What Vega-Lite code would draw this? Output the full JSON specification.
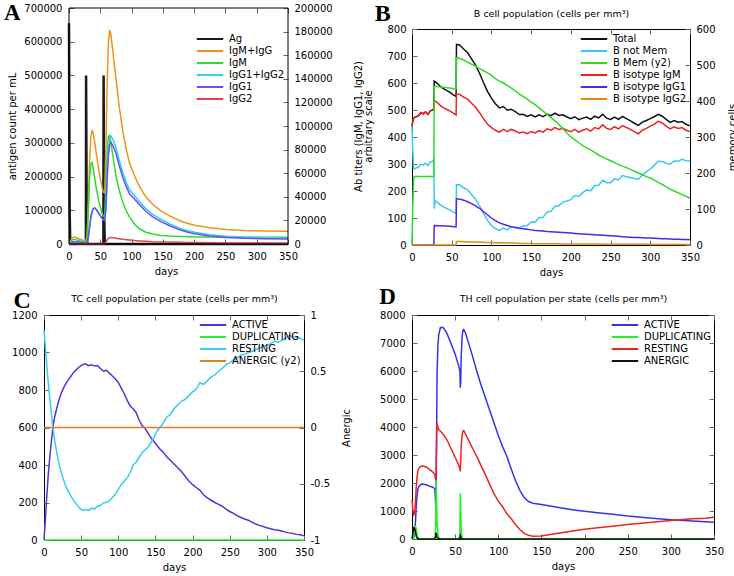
{
"$schema": "https://vega.github.io/schema/vega-lite/v6.json",
"background": "white",
"padding": {"left": 3, "top": 1, "right": 0, "bottom": 0},
"config": {
  "font": "DejaVu Sans",
  "view": {"stroke": "#000", "strokeWidth": 1},
  "axis": {"grid": false, "domain": false, "tickSize": -5, "tickColor": "#666", "labelFont": "DejaVu Sans", "labelFontSize": 10, "labelColor": "#000", "labelPadding": 12, "titleFont": "DejaVu Sans", "titleFontSize": 10, "titleFontWeight": "normal", "titleColor": "#000", "titlePadding": 5, "labelFlush": false, "labelOverlap": false},
  "legend": {"orient": "top-right", "offset": 3, "padding": 0, "labelFont": "DejaVu Sans", "labelFontSize": 10, "labelColor": "#000", "symbolType": "M-2.2,0H2.2", "symbolStrokeWidth": 2, "symbolSize": 144, "rowPadding": 0, "labelOffset": 12, "labelLimit": 250}
},
"datasets": {
  "A_ag": [{"d":0,"v":655000},{"d":1,"v":100000},{"d":2,"v":0},{"d":27,"v":0},{"d":27.3,"v":500000},{"d":28.3,"v":70000},{"d":29.3,"v":0},{"d":55,"v":0},{"d":55.3,"v":500000},{"d":56.3,"v":70000},{"d":57.3,"v":0},{"d":350,"v":0}],
  "A_ab": [
{"d":0,"m":0,"g1":0,"g2":0,"g12":0,"mg":0},
{"d":2,"m":1500,"g1":500,"g2":0,"g12":500,"mg":2000},
{"d":5,"m":3500,"g1":1700,"g2":0,"g12":1700,"mg":5200},
{"d":9,"m":3900,"g1":2000,"g2":0,"g12":2000,"mg":5900},
{"d":14,"m":3200,"g1":1700,"g2":0,"g12":1700,"mg":4900},
{"d":20,"m":2300,"g1":1300,"g2":0,"g12":1300,"mg":3600},
{"d":27,"m":1500,"g1":900,"g2":0,"g12":900,"mg":2400},
{"d":29,"m":6000,"g1":1500,"g2":0,"g12":1500,"mg":7500},
{"d":31,"m":30000,"g1":6000,"g2":0,"g12":6000,"mg":36000},
{"d":33,"m":57000,"g1":15000,"g2":0,"g12":15000,"mg":72000},
{"d":35,"m":68000,"g1":23000,"g2":0,"g12":23000,"mg":91000},
{"d":37,"m":69000,"g1":27500,"g2":0,"g12":27500,"mg":96500},
{"d":39,"m":63000,"g1":30000,"g2":0,"g12":30000,"mg":93000},
{"d":41,"m":56000,"g1":30500,"g2":0,"g12":30500,"mg":86500},
{"d":44,"m":46000,"g1":29000,"g2":0,"g12":29000,"mg":75000},
{"d":47,"m":38000,"g1":26500,"g2":0,"g12":26500,"mg":64500},
{"d":50,"m":31500,"g1":24000,"g2":0,"g12":24000,"mg":55500},
{"d":53,"m":26000,"g1":21500,"g2":0,"g12":21500,"mg":47500},
{"d":55,"m":23500,"g1":20500,"g2":0,"g12":20500,"mg":44000},
{"d":57,"m":23000,"g1":20000,"g2":300,"g12":20300,"mg":43300},
{"d":59,"m":50000,"g1":30000,"g2":1800,"g12":31800,"mg":81800},
{"d":61,"m":78000,"g1":55000,"g2":3500,"g12":58500,"mg":136500},
{"d":63,"m":91000,"g1":75000,"g2":4800,"g12":79800,"mg":170800},
{"d":65,"m":92000,"g1":84000,"g2":5400,"g12":89400,"mg":181400},
{"d":67,"m":86000,"g1":86000,"g2":5500,"g12":91500,"mg":177500},
{"d":70,"m":75000,"g1":83500,"g2":5300,"g12":88800,"mg":163800},
{"d":75,"m":58000,"g1":77000,"g2":4900,"g12":81900,"mg":139900},
{"d":80,"m":46000,"g1":67000,"g2":4500,"g12":71500,"mg":117500},
{"d":86,"m":35300,"g1":56400,"g2":4000,"g12":60400,"mg":95700},
{"d":92,"m":27500,"g1":48000,"g2":3600,"g12":51600,"mg":79100},
{"d":97,"m":22600,"g1":42400,"g2":3300,"g12":45700,"mg":68300},
{"d":105,"m":16500,"g1":38000,"g2":2900,"g12":40900,"mg":57400},
{"d":113,"m":12700,"g1":33000,"g2":2600,"g12":35600,"mg":48300},
{"d":123,"m":10000,"g1":27500,"g2":2300,"g12":29800,"mg":39800},
{"d":134,"m":8500,"g1":23000,"g2":2000,"g12":25000,"mg":33500},
{"d":147,"m":7300,"g1":19000,"g2":1800,"g12":20800,"mg":28100},
{"d":161,"m":6700,"g1":15500,"g2":1600,"g12":17100,"mg":23800},
{"d":177,"m":6300,"g1":12000,"g2":1400,"g12":13400,"mg":19700},
{"d":190,"m":6100,"g1":10000,"g2":1300,"g12":11300,"mg":17400},
{"d":203,"m":6000,"g1":8500,"g2":1200,"g12":9700,"mg":15700},
{"d":225,"m":5900,"g1":6800,"g2":1000,"g12":7800,"mg":13700},
{"d":251,"m":5800,"g1":5600,"g2":900,"g12":6500,"mg":12300},
{"d":280,"m":5700,"g1":4900,"g2":800,"g12":5700,"mg":11400},
{"d":310,"m":5700,"g1":4500,"g2":750,"g12":5250,"mg":10950},
{"d":350,"m":5700,"g1":4300,"g2":700,"g12":5000,"mg":10700}
  ],
  "B": [
{"d":0,"tot":440,"nm":440,"mem":0,"igm":440,"g1":0,"g2":0},
{"d":1,"tot":458,"nm":348,"mem":110,"igm":458,"g1":0,"g2":0},
{"d":2,"tot":468,"nm":283,"mem":185,"igm":468,"g1":0,"g2":0},
{"d":3,"tot":472,"nm":282,"mem":190,"igm":472,"g1":0,"g2":0},
{"d":5,"tot":475,"nm":285,"mem":190,"igm":475,"g1":0,"g2":0},
{"d":8,"tot":478,"nm":288,"mem":190,"igm":478,"g1":0,"g2":0},
{"d":11,"tot":490,"nm":300,"mem":190,"igm":490,"g1":0,"g2":0},
{"d":14,"tot":486,"nm":296,"mem":190,"igm":486,"g1":0,"g2":0},
{"d":17,"tot":493,"nm":303,"mem":190,"igm":493,"g1":0,"g2":0},
{"d":20,"tot":484,"nm":294,"mem":190,"igm":484,"g1":0,"g2":0},
{"d":23,"tot":497,"nm":307,"mem":190,"igm":497,"g1":0,"g2":0},
{"d":26,"tot":500,"nm":310,"mem":190,"igm":500,"g1":0,"g2":0},
{"d":27.5,"tot":506,"nm":316,"mem":190,"igm":506,"g1":0,"g2":0},
{"d":28,"tot":607,"nm":135,"mem":440,"igm":535,"g1":72,"g2":0},
{"d":29,"tot":605,"nm":164,"mem":441,"igm":533,"g1":72,"g2":0},
{"d":32,"tot":598,"nm":158,"mem":440,"igm":527,"g1":71,"g2":0},
{"d":36,"tot":587,"nm":148,"mem":439,"igm":516,"g1":71,"g2":0},
{"d":40,"tot":578,"nm":140,"mem":438,"igm":508,"g1":70,"g2":0},
{"d":44,"tot":572,"nm":135,"mem":437,"igm":502,"g1":70,"g2":0},
{"d":48,"tot":565,"nm":129,"mem":436,"igm":496,"g1":69,"g2":0},
{"d":52,"tot":556,"nm":122,"mem":434,"igm":488,"g1":68,"g2":0},
{"d":55.5,"tot":550,"nm":117,"mem":433,"igm":482,"g1":68,"g2":0},
{"d":56,"tot":743,"nm":223,"mem":520,"igm":560,"g1":170,"g2":13},
{"d":60,"tot":741,"nm":223,"mem":518,"igm":558,"g1":170,"g2":13},
{"d":65,"tot":726,"nm":212,"mem":514,"igm":548,"g1":166,"g2":12},
{"d":70,"tot":712,"nm":204,"mem":508,"igm":540,"g1":160,"g2":12},
{"d":75,"tot":689,"nm":187,"mem":502,"igm":525,"g1":153,"g2":11},
{"d":80,"tot":666,"nm":169,"mem":497,"igm":510,"g1":145,"g2":11},
{"d":85,"tot":636,"nm":146,"mem":490,"igm":490,"g1":136,"g2":10},
{"d":90,"tot":602,"nm":118,"mem":484,"igm":468,"g1":124,"g2":10},
{"d":95,"tot":569,"nm":91,"mem":478,"igm":448,"g1":112,"g2":9},
{"d":100,"tot":544,"nm":72,"mem":472,"igm":435,"g1":100,"g2":9},
{"d":105,"tot":523,"nm":61,"mem":462,"igm":425,"g1":90,"g2":8},
{"d":110,"tot":508,"nm":53,"mem":455,"igm":418,"g1":82,"g2":8},
{"d":115,"tot":513,"nm":63,"mem":450,"igm":428,"g1":77,"g2":8},
{"d":120,"tot":499,"nm":56,"mem":443,"igm":420,"g1":72,"g2":7},
{"d":125,"tot":503,"nm":67,"mem":436,"igm":428,"g1":68,"g2":7},
{"d":130,"tot":494,"nm":66,"mem":428,"igm":422,"g1":65,"g2":7},
{"d":135,"tot":483,"nm":63,"mem":420,"igm":415,"g1":62,"g2":6},
{"d":140,"tot":484,"nm":71,"mem":413,"igm":418,"g1":60,"g2":6},
{"d":145,"tot":476,"nm":71,"mem":405,"igm":412,"g1":58,"g2":6},
{"d":150,"tot":482,"nm":85,"mem":397,"igm":420,"g1":56,"g2":6},
{"d":155,"tot":474,"nm":84,"mem":390,"igm":415,"g1":54,"g2":5},
{"d":160,"tot":482,"nm":101,"mem":381,"igm":424,"g1":53,"g2":5},
{"d":165,"tot":475,"nm":103,"mem":372,"igm":418,"g1":52,"g2":5},
{"d":170,"tot":485,"nm":122,"mem":363,"igm":430,"g1":50,"g2":5},
{"d":175,"tot":479,"nm":125,"mem":354,"igm":425,"g1":49,"g2":5},
{"d":180,"tot":488,"nm":143,"mem":345,"igm":435,"g1":48,"g2":5},
{"d":185,"tot":480,"nm":145,"mem":335,"igm":428,"g1":47,"g2":5},
{"d":190,"tot":482,"nm":159,"mem":323,"igm":432,"g1":46,"g2":4},
{"d":195,"tot":474,"nm":163,"mem":311,"igm":425,"g1":45,"g2":4},
{"d":200,"tot":468,"nm":168,"mem":300,"igm":420,"g1":44,"g2":4},
{"d":205,"tot":475,"nm":183,"mem":292,"igm":428,"g1":43,"g2":4},
{"d":210,"tot":464,"nm":180,"mem":284,"igm":418,"g1":42,"g2":4},
{"d":215,"tot":470,"nm":194,"mem":276,"igm":425,"g1":41,"g2":4},
{"d":220,"tot":474,"nm":204,"mem":270,"igm":430,"g1":40,"g2":4},
{"d":225,"tot":465,"nm":201,"mem":264,"igm":422,"g1":39,"g2":4},
{"d":230,"tot":477,"nm":220,"mem":257,"igm":435,"g1":38,"g2":4},
{"d":235,"tot":471,"nm":221,"mem":250,"igm":430,"g1":37,"g2":4},
{"d":240,"tot":484,"nm":240,"mem":244,"igm":445,"g1":36,"g2":3},
{"d":245,"tot":470,"nm":231,"mem":239,"igm":432,"g1":35,"g2":3},
{"d":250,"tot":465,"nm":231,"mem":234,"igm":428,"g1":34,"g2":3},
{"d":255,"tot":474,"nm":245,"mem":229,"igm":438,"g1":33,"g2":3},
{"d":260,"tot":465,"nm":241,"mem":224,"igm":430,"g1":32,"g2":3},
{"d":265,"tot":476,"nm":257,"mem":219,"igm":442,"g1":31,"g2":3},
{"d":270,"tot":468,"nm":253,"mem":215,"igm":435,"g1":30,"g2":3},
{"d":275,"tot":460,"nm":250,"mem":210,"igm":428,"g1":29,"g2":3},
{"d":280,"tot":451,"nm":246,"mem":205,"igm":420,"g1":28,"g2":3},
{"d":285,"tot":443,"nm":243,"mem":200,"igm":412,"g1":28,"g2":3},
{"d":290,"tot":455,"nm":260,"mem":195,"igm":425,"g1":27,"g2":3},
{"d":295,"tot":461,"nm":271,"mem":190,"igm":432,"g1":26,"g2":3},
{"d":300,"tot":468,"nm":282,"mem":186,"igm":440,"g1":26,"g2":2},
{"d":305,"tot":475,"nm":295,"mem":180,"igm":448,"g1":25,"g2":2},
{"d":310,"tot":484,"nm":310,"mem":174,"igm":458,"g1":24,"g2":2},
{"d":315,"tot":477,"nm":309,"mem":168,"igm":452,"g1":23,"g2":2},
{"d":320,"tot":465,"nm":303,"mem":162,"igm":440,"g1":23,"g2":2},
{"d":325,"tot":454,"nm":299,"mem":155,"igm":430,"g1":22,"g2":2},
{"d":330,"tot":461,"nm":311,"mem":150,"igm":438,"g1":21,"g2":2},
{"d":335,"tot":455,"nm":310,"mem":145,"igm":432,"g1":21,"g2":2},
{"d":340,"tot":457,"nm":317,"mem":140,"igm":435,"g1":20,"g2":2},
{"d":345,"tot":447,"nm":312,"mem":135,"igm":425,"g1":20,"g2":2},
{"d":350,"tot":441,"nm":311,"mem":130,"igm":420,"g1":19,"g2":2}
  ],
  "C": [
{"d":0,"act":0,"dup":0,"res":1120,"an":0},{"d":2,"act":120,"dup":0,"res":1020,"an":0},{"d":4,"act":250,"dup":0,"res":920,"an":0},{"d":6,"act":360,"dup":0,"res":830,"an":0},{"d":8,"act":450,"dup":0,"res":750,"an":0},{"d":10,"act":530,"dup":0,"res":670,"an":0},{"d":12,"act":600,"dup":0,"res":600,"an":0},{"d":14,"act":650,"dup":0,"res":540,"an":0},{"d":17,"act":700,"dup":0,"res":470,"an":0},{"d":20,"act":745,"dup":0,"res":410,"an":0},{"d":24,"act":790,"dup":0,"res":350,"an":0},{"d":28,"act":825,"dup":0,"res":300,"an":0},{"d":32,"act":850,"dup":0,"res":265,"an":0},{"d":36,"act":872,"dup":0,"res":235,"an":0},{"d":40,"act":895,"dup":0,"res":210,"an":0},{"d":44,"act":910,"dup":0,"res":190,"an":0},{"d":48,"act":925,"dup":0,"res":170,"an":0},{"d":52,"act":935,"dup":0,"res":158,"an":0},{"d":56,"act":940,"dup":0,"res":162,"an":0},{"d":60,"act":930,"dup":0,"res":158,"an":0},{"d":64,"act":935,"dup":0,"res":170,"an":0},{"d":68,"act":928,"dup":0,"res":165,"an":0},{"d":72,"act":930,"dup":0,"res":180,"an":0},{"d":76,"act":915,"dup":0,"res":185,"an":0},{"d":80,"act":900,"dup":0,"res":198,"an":0},{"d":84,"act":905,"dup":0,"res":200,"an":0},{"d":88,"act":890,"dup":0,"res":210,"an":0},{"d":92,"act":875,"dup":0,"res":225,"an":0},{"d":96,"act":860,"dup":0,"res":245,"an":0},{"d":100,"act":840,"dup":0,"res":270,"an":0},{"d":104,"act":810,"dup":0,"res":295,"an":0},{"d":108,"act":780,"dup":0,"res":315,"an":0},{"d":112,"act":745,"dup":0,"res":330,"an":0},{"d":116,"act":715,"dup":0,"res":360,"an":0},{"d":120,"act":700,"dup":0,"res":400,"an":0},{"d":124,"act":680,"dup":0,"res":415,"an":0},{"d":128,"act":640,"dup":0,"res":440,"an":0},{"d":132,"act":610,"dup":0,"res":465,"an":0},{"d":136,"act":595,"dup":0,"res":480,"an":0},{"d":140,"act":570,"dup":0,"res":495,"an":0},{"d":144,"act":545,"dup":0,"res":520,"an":0},{"d":148,"act":525,"dup":0,"res":545,"an":0},{"d":152,"act":505,"dup":0,"res":580,"an":0},{"d":156,"act":485,"dup":0,"res":600,"an":0},{"d":160,"act":470,"dup":0,"res":620,"an":0},{"d":165,"act":445,"dup":0,"res":655,"an":0},{"d":170,"act":425,"dup":0,"res":670,"an":0},{"d":175,"act":405,"dup":0,"res":700,"an":0},{"d":180,"act":385,"dup":0,"res":720,"an":0},{"d":185,"act":365,"dup":0,"res":740,"an":0},{"d":190,"act":340,"dup":0,"res":750,"an":0},{"d":195,"act":315,"dup":0,"res":770,"an":0},{"d":200,"act":295,"dup":0,"res":790,"an":0},{"d":205,"act":280,"dup":0,"res":805,"an":0},{"d":210,"act":265,"dup":0,"res":840,"an":0},{"d":215,"act":240,"dup":0,"res":830,"an":0},{"d":220,"act":225,"dup":0,"res":850,"an":0},{"d":225,"act":212,"dup":0,"res":870,"an":0},{"d":230,"act":200,"dup":0,"res":880,"an":0},{"d":235,"act":190,"dup":0,"res":900,"an":0},{"d":240,"act":180,"dup":0,"res":915,"an":0},{"d":245,"act":165,"dup":0,"res":935,"an":0},{"d":250,"act":152,"dup":0,"res":945,"an":0},{"d":255,"act":142,"dup":0,"res":960,"an":0},{"d":260,"act":130,"dup":0,"res":970,"an":0},{"d":265,"act":120,"dup":0,"res":985,"an":0},{"d":270,"act":112,"dup":0,"res":990,"an":0},{"d":275,"act":105,"dup":0,"res":1000,"an":0},{"d":280,"act":95,"dup":0,"res":1005,"an":0},{"d":285,"act":85,"dup":0,"res":1015,"an":0},{"d":290,"act":78,"dup":0,"res":1025,"an":0},{"d":295,"act":72,"dup":0,"res":1030,"an":0},{"d":300,"act":65,"dup":0,"res":1040,"an":0},{"d":305,"act":60,"dup":0,"res":1045,"an":0},{"d":310,"act":55,"dup":0,"res":1060,"an":0},{"d":315,"act":52,"dup":0,"res":1055,"an":0},{"d":320,"act":48,"dup":0,"res":1065,"an":0},{"d":325,"act":42,"dup":0,"res":1075,"an":0},{"d":330,"act":38,"dup":0,"res":1090,"an":0},{"d":335,"act":35,"dup":0,"res":1085,"an":0},{"d":340,"act":30,"dup":0,"res":1080,"an":0},{"d":345,"act":28,"dup":0,"res":1075,"an":0},{"d":350,"act":22,"dup":0,"res":1065,"an":0}
  ],
  "D": [
{"d":0,"act":0,"dup":0,"res":1400,"an":0},{"d":1,"act":0,"dup":0,"res":1050,"an":200},{"d":2,"act":40,"dup":60,"res":860,"an":400},{"d":3,"act":200,"dup":300,"res":900,"an":380},{"d":4,"act":600,"dup":480,"res":1300,"an":250},{"d":5,"act":1200,"dup":350,"res":1900,"an":100},{"d":6,"act":1600,"dup":150,"res":2250,"an":30},{"d":7,"act":1800,"dup":40,"res":2450,"an":10},{"d":8,"act":1880,"dup":10,"res":2530,"an":0},{"d":10,"act":1940,"dup":0,"res":2590,"an":0},{"d":12,"act":1960,"dup":0,"res":2610,"an":0},{"d":15,"act":1950,"dup":0,"res":2590,"an":0},{"d":18,"act":1920,"dup":0,"res":2540,"an":0},{"d":21,"act":1880,"dup":0,"res":2470,"an":0},{"d":24,"act":1850,"dup":0,"res":2390,"an":0},{"d":26.5,"act":1800,"dup":0,"res":2300,"an":0},{"d":27.5,"act":1200,"dup":500,"res":2100,"an":100},{"d":28,"act":1500,"dup":2100,"res":2500,"an":230},{"d":28.5,"act":3500,"dup":1500,"res":3800,"an":150},{"d":29,"act":5800,"dup":600,"res":4150,"an":60},{"d":30,"act":6900,"dup":200,"res":4000,"an":20},{"d":31,"act":7300,"dup":50,"res":3900,"an":0},{"d":33,"act":7550,"dup":10,"res":3850,"an":0},{"d":36,"act":7550,"dup":0,"res":3750,"an":0},{"d":40,"act":7380,"dup":0,"res":3570,"an":0},{"d":45,"act":7000,"dup":0,"res":3250,"an":0},{"d":50,"act":6600,"dup":0,"res":2920,"an":0},{"d":54,"act":6200,"dup":0,"res":2650,"an":0},{"d":55.5,"act":6000,"dup":100,"res":2500,"an":30},{"d":56,"act":5400,"dup":1630,"res":2420,"an":120},{"d":56.5,"act":5600,"dup":1000,"res":2800,"an":80},{"d":57,"act":6500,"dup":300,"res":3300,"an":30},{"d":58,"act":7200,"dup":80,"res":3700,"an":0},{"d":59,"act":7450,"dup":10,"res":3850,"an":0},{"d":60,"act":7480,"dup":0,"res":3870,"an":0},{"d":62,"act":7350,"dup":0,"res":3750,"an":0},{"d":65,"act":7050,"dup":0,"res":3560,"an":0},{"d":70,"act":6550,"dup":0,"res":3250,"an":0},{"d":75,"act":6000,"dup":0,"res":2950,"an":0},{"d":80,"act":5500,"dup":0,"res":2620,"an":0},{"d":85,"act":5050,"dup":0,"res":2300,"an":0},{"d":90,"act":4600,"dup":0,"res":1950,"an":0},{"d":95,"act":4150,"dup":0,"res":1620,"an":0},{"d":100,"act":3700,"dup":0,"res":1350,"an":0},{"d":105,"act":3300,"dup":0,"res":1150,"an":0},{"d":110,"act":2950,"dup":0,"res":900,"an":0},{"d":115,"act":2500,"dup":0,"res":720,"an":0},{"d":120,"act":2080,"dup":0,"res":520,"an":0},{"d":125,"act":1740,"dup":0,"res":340,"an":0},{"d":130,"act":1480,"dup":0,"res":200,"an":0},{"d":135,"act":1340,"dup":0,"res":130,"an":0},{"d":140,"act":1280,"dup":0,"res":100,"an":0},{"d":150,"act":1230,"dup":0,"res":110,"an":0},{"d":160,"act":1180,"dup":0,"res":160,"an":0},{"d":175,"act":1100,"dup":0,"res":230,"an":0},{"d":190,"act":1030,"dup":0,"res":300,"an":0},{"d":200,"act":990,"dup":0,"res":345,"an":0},{"d":215,"act":940,"dup":0,"res":400,"an":0},{"d":230,"act":890,"dup":0,"res":450,"an":0},{"d":250,"act":820,"dup":0,"res":520,"an":0},{"d":275,"act":750,"dup":0,"res":590,"an":0},{"d":300,"act":690,"dup":0,"res":660,"an":0},{"d":310,"act":670,"dup":0,"res":690,"an":0},{"d":325,"act":640,"dup":0,"res":720,"an":0},{"d":340,"act":620,"dup":0,"res":740,"an":0},{"d":350,"act":600,"dup":0,"res":780,"an":0}
  ]
},
"resolve": {"scale": {"color": "independent", "x": "independent", "y": "independent"}, "legend": {"color": "independent"}},
"columns": 2,
"spacing": {"row": 7, "column": 0},
"concat": [
  {"width": 244, "height": 215,
   "view": {"stroke": null},
   "resolve": {"scale": {"y": "independent"}, "axis": {"x": "independent"}},
   "layer": [
    {"data": {"name": "A_ag"},
     "mark": {"type": "line", "strokeWidth": 2.5},
     "encoding": {
      "x": {"field": "d", "type": "quantitative", "scale": {"domain": [-39.954, 350], "nice": false, "zero": false}, "axis": {"title": "days", "values": [0,50,100,150,200,250,300,350]}},
      "y": {"field": "v", "type": "quantitative", "scale": {"domain": [0, 700000], "range": [215, -21], "nice": false}, "axis": {"title": "antigen count per mL", "offset": -25, "titlePadding": 6, "values": [0,100000,200000,300000,400000,500000,600000,700000], "format": "d"}},
      "color": {"datum": "ag", "type": "nominal", "scale": {"domain": ["ag","mg","m","g12","g1","g2"], "range": ["#1a1a1a","#e8961e","#2ddb2d","#33ccf5","#6a50f0","#e8404a"]},
        "legend": {"title": null, "labelExpr": "datum.label=='ag'?'Ag':datum.label=='mg'?'IgM+IgG':datum.label=='m'?'IgM':datum.label=='g12'?'IgG1+IgG2':datum.label=='g1'?'IgG1':'IgG2'"}}
     }},
    {"data": {"name": "A_ab"},
     "transform": [{"fold": ["mg","m","g12","g1","g2"], "as": ["s","v"]}],
     "mark": {"type": "line", "strokeWidth": 1.5},
     "encoding": {
      "x": {"field": "d", "type": "quantitative", "scale": {"domain": [-39.954, 350], "nice": false, "zero": false}, "axis": null},
      "y": {"field": "v", "type": "quantitative", "scale": {"domain": [0, 200000], "range": [215, -21], "nice": false}, "axis": {"orient": "right", "labelPadding": 11, "title": ["Ab titers (IgM, IgG1, IgG2)", "arbitrary scale"], "titleAngle": 270, "titleBaseline": "top", "titlePadding": 11, "titleLineHeight": 10, "values": [0,20000,40000,60000,80000,100000,120000,140000,160000,180000,200000], "format": "d"}},
      "color": {"field": "s", "type": "nominal", "legend": {"title": null}}
     }},
    {"data": {"values": [{}]},
     "mark": {"type": "rect", "filled": false, "stroke": "#000", "strokeWidth": 1},
     "encoding": {
      "x": {"datum": 0, "type": "quantitative", "scale": {"domain": [-39.954, 350], "nice": false, "zero": false}, "axis": null},
      "x2": {"datum": 350},
      "y": {"datum": 0, "type": "quantitative", "scale": {"domain": [0, 700000], "range": [215, -21], "nice": false}, "axis": null},
      "y2": {"datum": 700000}
     }},
    {"data": {"values": [{}]},
     "mark": {"type": "text", "text": "A", "font": "Liberation Serif", "fontSize": 23, "fontWeight": "bold", "align": "left", "baseline": "alphabetic", "color": "#000"},
     "encoding": {
      "x": {"datum": -104, "type": "quantitative", "scale": {"domain": [-39.954, 350], "nice": false, "zero": false}, "axis": {"orient": "top", "labels": false, "title": null, "offset": 21, "values": [0,50,100,150,200,250,300,350]}},
      "y": {"datum": 663000, "type": "quantitative", "scale": {"domain": [0, 700000], "range": [215, -21], "nice": false}, "axis": null}
     }}
   ]},
  {"width": 278, "height": 216,
   "resolve": {"scale": {"y": "independent"}, "axis": {"x": "independent"}},
   "layer": [
    {"data": {"name": "B"},
     "transform": [{"fold": ["tot","nm","igm","g1","g2"], "as": ["s","v"]}],
     "mark": {"type": "line", "strokeWidth": 1.5},
     "encoding": {
      "x": {"field": "d", "type": "quantitative", "scale": {"domain": [0, 350], "nice": false}, "axis": {"title": "days", "values": [0,50,100,150,200,250,300,350]}},
      "y": {"field": "v", "type": "quantitative", "scale": {"domain": [0, 800], "nice": false}, "axis": {"title": null, "labelPadding": 11, "values": [0,100,200,300,400,500,600,700,800]}},
      "color": {"field": "s", "type": "nominal", "scale": {"domain": ["tot","nm","mem","igm","g1","g2"], "range": ["#111111","#38c8f5","#28dd28","#ee2222","#5522ee","#e08a10"]},
        "legend": {"title": null, "labelExpr": "datum.label=='tot'?'Total':datum.label=='nm'?'B not Mem':datum.label=='mem'?'B Mem (y2)':datum.label=='igm'?'B isotype IgM':datum.label=='g1'?'B isotype IgG1':'B isotype IgG2'"}}
     }},
    {"data": {"name": "B"},
     "mark": {"type": "line", "strokeWidth": 1.5},
     "encoding": {
      "x": {"field": "d", "type": "quantitative", "scale": {"domain": [0, 350], "nice": false}, "axis": null},
      "y": {"field": "mem", "type": "quantitative", "scale": {"domain": [0, 600], "nice": false}, "axis": {"orient": "right", "labelPadding": 11, "title": "memory cells", "titleAngle": 270, "titleBaseline": "top", "titlePadding": 12, "values": [0,100,200,300,400,500,600]}},
      "color": {"datum": "mem", "type": "nominal", "legend": {"title": null}}
     }},
    {"data": {"values": [{}]},
     "mark": {"type": "text", "text": "B", "font": "Liberation Serif", "fontSize": 24, "fontWeight": "bold", "align": "left", "baseline": "alphabetic", "color": "#000"},
     "encoding": {
      "x": {"datum": -47, "type": "quantitative", "scale": {"domain": [0, 350], "nice": false}, "axis": {"orient": "top", "labels": false, "title": "B cell population (cells per mm³)", "titleFontSize": 9.5, "titlePadding": 10, "values": [0,50,100,150,200,250,300,350]}},
      "y": {"datum": 830, "type": "quantitative", "scale": {"domain": [0, 800], "nice": false}, "axis": null}
     }}
   ]},
  {"width": 260, "height": 225,
   "resolve": {"scale": {"y": "independent"}, "axis": {"x": "independent"}},
   "layer": [
    {"data": {"name": "C"},
     "transform": [{"fold": ["act","dup","res"], "as": ["s","v"]}],
     "mark": {"type": "line", "strokeWidth": 1.5},
     "encoding": {
      "x": {"field": "d", "type": "quantitative", "scale": {"domain": [0, 350], "nice": false}, "axis": {"title": "days", "values": [0,50,100,150,200,250,300,350]}},
      "y": {"field": "v", "type": "quantitative", "scale": {"domain": [0, 1200], "nice": false}, "axis": {"title": null, "values": [0,200,400,600,800,1000,1200], "format": "d"}},
      "color": {"field": "s", "type": "nominal", "scale": {"domain": ["act","dup","res","an"], "range": ["#5a30d8","#33ee33","#38ccf5","#e08020"]},
        "legend": {"title": null, "labelExpr": "datum.label=='act'?'ACTIVE':datum.label=='dup'?'DUPLICATING':datum.label=='res'?'RESTING':'ANERGIC (y2)'"}}
     }},
    {"data": {"name": "C"},
     "mark": {"type": "line", "strokeWidth": 1.5},
     "encoding": {
      "x": {"field": "d", "type": "quantitative", "scale": {"domain": [0, 350], "nice": false}, "axis": null},
      "y": {"field": "an", "type": "quantitative", "scale": {"domain": [-1, 1], "nice": false}, "axis": {"orient": "right", "title": "Anergic", "titleAngle": 270, "titleBaseline": "top", "titlePadding": 12, "labelPadding": 11, "values": [-1,-0.5,0,0.5,1], "labelExpr": "'' + datum.value"}},
      "color": {"datum": "an", "type": "nominal", "legend": {"title": null}}
     }},
    {"data": {"values": [{}]},
     "mark": {"type": "text", "text": "C", "font": "Liberation Serif", "fontSize": 24, "fontWeight": "bold", "align": "left", "baseline": "alphabetic", "color": "#000"},
     "encoding": {
      "x": {"datum": -41, "type": "quantitative", "scale": {"domain": [0, 350], "nice": false}, "axis": {"orient": "top", "labels": false, "title": "TC cell population per state (cells per mm³)", "titleFontSize": 9.5, "titlePadding": 11, "values": [0,50,100,150,200,250,300,350]}},
      "y": {"datum": 1235, "type": "quantitative", "scale": {"domain": [0, 1200], "nice": false}, "axis": null}
     }}
   ]},
  {"width": 302, "height": 224,
   "resolve": {"scale": {"y": "independent"}, "axis": {"x": "independent"}},
   "layer": [
    {"data": {"name": "D"},
     "transform": [{"fold": ["act","dup","res","an"], "as": ["s","v"]}],
     "mark": {"type": "line", "strokeWidth": 1.5},
     "encoding": {
      "x": {"field": "d", "type": "quantitative", "scale": {"domain": [0, 350], "nice": false}, "axis": {"title": "days", "values": [0,50,100,150,200,250,300,350]}},
      "y": {"field": "v", "type": "quantitative", "scale": {"domain": [0, 8000], "nice": false}, "axis": {"title": null, "values": [0,1000,2000,3000,4000,5000,6000,7000,8000], "format": "d"}},
      "color": {"field": "s", "type": "nominal", "scale": {"domain": ["act","dup","res","an"], "range": ["#3333ee","#22ee22","#ee2222","#111111"]},
        "legend": {"title": null, "labelExpr": "datum.label=='act'?'ACTIVE':datum.label=='dup'?'DUPLICATING':datum.label=='res'?'RESTING':'ANERGIC'"}}
     }},
    {"data": {"values": [{}]},
     "mark": {"type": "text", "text": "D", "font": "Liberation Serif", "fontSize": 23, "fontWeight": "bold", "align": "left", "baseline": "alphabetic", "color": "#000"},
     "encoding": {
      "x": {"datum": -38, "type": "quantitative", "scale": {"domain": [0, 350], "nice": false}, "axis": {"orient": "top", "labels": false, "title": "TH cell population per state (cells per mm³)", "titleFontSize": 9.5, "titlePadding": 11, "values": [0,50,100,150,200,250,300,350]}},
      "y": {"datum": 8400, "type": "quantitative", "scale": {"domain": [0, 8000], "nice": false}, "axis": {"orient": "right", "labels": false, "title": null, "values": [0,1000,2000,3000,4000,5000,6000,7000,8000]}}
     }}
   ]}
]
}
